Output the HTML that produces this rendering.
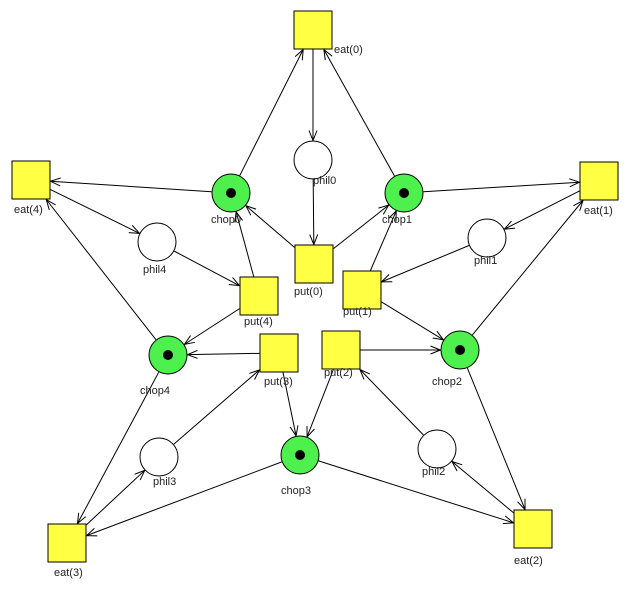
<!DOCTYPE html>
<html><head><meta charset="utf-8"><style>
html,body{margin:0;padding:0;background:#fff;}
svg{display:block;}
text{font-family:"Liberation Sans",sans-serif;font-size:11px;fill:#222;}
</style></head><body>
<svg id="s" width="631" height="591" xmlns="http://www.w3.org/2000/svg">
<g id="arcs" stroke="#000" stroke-width="1" fill="none"></g>
<g id="nodes"></g>
<g id="labels"></g>
</svg>
<script>
var N={
'eat0':['t',313,30],'phil0':['p',313,160],'chop0':['c',231,193],'chop1':['c',404,193],
'eat4':['t',31,180],'eat1':['t',599,181],'phil4':['p',157,242],'phil1':['p',487,238],
'put0':['t',314,264],'put4':['t',259,296],'put1':['t',362,290],
'chop4':['c',168,355],'chop2':['c',460,350],'put3':['t',279,353],'put2':['t',341,350],
'phil3':['p',159,457],'phil2':['p',437,449],'chop3':['c',300,455],
'eat3':['t',67,543],'eat2':['t',533,529]};
var L=[['eat(0)',334,53],['phil0',313,184],['chop0',211,223],['chop1',382,223],['eat(4)',14,213],['eat(1)',584,214],
['phil4',143,273],['phil1',474,264],['put(0)',294,295],['put(4)',244,325],['put(1)',343,315],
['chop4',140,394],['chop2',432,385],['put(3)',264,385],['put(2)',324,376],['phil3',153,485],['phil2',422,475],
['chop3',281,494],['eat(3)',54,576],['eat(2)',514,564]];
var A=[['eat0','phil0'],['phil0','put0'],['chop0','eat0'],['chop1','eat0'],['chop0','eat4'],['chop1','eat1'],
['eat4','phil4'],['eat1','phil1'],['phil4','put4'],['phil1','put1'],['put0','chop0'],['put0','chop1'],
['put4','chop0'],['put4','chop4'],['put1','chop1'],['put1','chop2'],['chop4','eat4'],['chop2','eat1'],
['put3','chop4'],['put2','chop2'],['put3','chop3'],['put2','chop3'],['chop4','eat3'],['chop2','eat2'],
['phil3','put3'],['phil2','put2'],['chop3','eat3'],['chop3','eat2'],['eat3','phil3'],['eat2','phil2']];
var ns='http://www.w3.org/2000/svg';
function el(t,a,p){var e=document.createElementNS(ns,t);for(var k in a)e.setAttribute(k,a[k]);document.getElementById(p).appendChild(e);return e;}
function edge(n,dx,dy){var x=n[1],y=n[2];if(n[0]!='t'){return [x+dx*19.5,y+dy*19.5];}
var h=19.5,t=Math.min(h/Math.abs(dx||1e-9),h/Math.abs(dy||1e-9));return [x+dx*t,y+dy*t];}
A.forEach(function(a){var p=N[a[0]],q=N[a[1]];var dx=q[1]-p[1],dy=q[2]-p[2],l=Math.hypot(dx,dy);dx/=l;dy/=l;
var s=edge(p,dx,dy),e=edge(q,-dx,-dy);
el('line',{x1:s[0],y1:s[1],x2:e[0],y2:e[1]},'arcs');
var L2=10,w=4,bx=e[0]-dx*L2,by=e[1]-dy*L2;
el('polyline',{points:(bx-dy*w)+','+(by+dx*w)+' '+e[0]+','+e[1]+' '+(bx+dy*w)+','+(by-dx*w)},'arcs');});
for(var k in N){var n=N[k];
if(n[0]=='t')el('rect',{x:n[1]-19,y:n[2]-19,width:38,height:38,fill:'#ffff44',stroke:'#000'},'nodes');
else{el('circle',{cx:n[1],cy:n[2],r:19,fill:n[0]=='c'?'#4ef04e':'#fff',stroke:'#000'},'nodes');
if(n[0]=='c')el('circle',{cx:n[1],cy:n[2],r:5,fill:'#000'},'nodes');}}
L.forEach(function(l){var t=el('text',{x:l[1],y:l[2]},'labels');t.textContent=l[0];});
</script>
</body></html>
